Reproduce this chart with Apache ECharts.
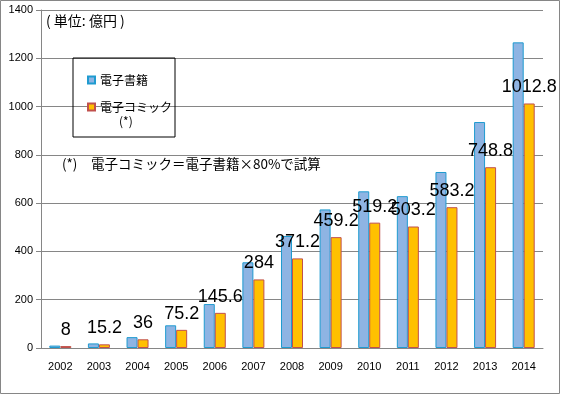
<!DOCTYPE html>
<html><head><meta charset="utf-8">
<script src="https://cdn.jsdelivr.net/npm/echarts@6/dist/echarts.min.js"></script>
<style>html,body{margin:0;padding:0;background:#fff}#c{width:561px;height:395px}</style>
</head><body><div id="c"></div>
<script>
const years = ['2002','2003','2004','2005','2006','2007','2008','2009','2010','2011','2012','2013','2014'];
const ebook = [10, 19, 45, 94, 182, 355, 464, 574, 649, 629, 729, 936, 1266];
const comic = [8, 15.2, 36, 75.2, 145.6, 284, 371.2, 459.2, 519.2, 503.2, 583.2, 748.8, 1012.8];
const yTicks = [0, 200, 400, 600, 800, 1000, 1200, 1400];

const chart = echarts.init(document.getElementById('c'));
chart.setOption({
  animation: false,
  textStyle: {fontFamily: 'Liberation Sans'},
  grid: {left: 41, right: 18, top: 10, bottom: 47},
  graphic: [
    {type: 'rect', shape: {x: 0.5, y: 0.5, width: 559, height: 393}, style: {fill: 'none', stroke: '#868686', lineWidth: 1}, z: -1},
    {type: 'text', left: 46, top: 14, style: {text: '( 単位: 億円 )', font: '14px "Noto Sans CJK JP"', fill: '#000'}},
    {type: 'text', left: 62, top: 157, style: {text: '(*)　電子コミック＝電子書籍×80%で試算', font: '13.5px "Noto Sans CJK JP"', fill: '#000'}},
    {type: 'text', left: 119, top: 115, style: {text: '(*)', font: '12px "Noto Sans CJK JP"', fill: '#000'}, z: 10}
  ],
  legend: {
    left: 73, top: 58, orient: 'vertical',
    padding: [14, 3, 22, 14],
    borderColor: '#000', borderWidth: 1,
    icon: 'rect',
    itemWidth: 7, itemHeight: 7, itemGap: 11,
    textStyle: {fontFamily: 'Noto Sans CJK JP', fontSize: 12, color: '#000', lineHeight: 16}
  },
  xAxis: {
    type: 'category', data: years,
    axisLine: {lineStyle: {color: '#868686'}},
    axisTick: {length: 5, lineStyle: {color: '#868686'}},
    axisLabel: {color: '#000', fontSize: 11, margin: 13}
  },
  yAxis: {
    type: 'value', min: 0, max: 1400, interval: 200,
    axisLine: {show: true, lineStyle: {color: '#868686'}},
    axisTick: {show: true, length: 5, lineStyle: {color: '#868686'}},
    splitLine: {lineStyle: {color: '#868686'}},
    axisLabel: {color: '#000', fontSize: 11, margin: 8,
      formatter: function(v){ return yTicks.indexOf(v) >= 0 ? String(v) : ''; }}
  },
  series: [
    {name: '電子書籍', type: 'bar', data: ebook, barGap: '0%', barCategoryGap: '43%',
     itemStyle: {color: '#8EB4E3', borderColor: '#1F9BD0', borderWidth: 1}},
    {name: '電子コミック', type: 'bar', data: comic,
     itemStyle: {color: '#FFC000', borderColor: '#C0504D', borderWidth: 1},
     label: {show: true, position: 'top', distance: 7, color: '#000', fontSize: 18, fontFamily: 'Liberation Sans'}}
  ]
});
</script></body></html>
